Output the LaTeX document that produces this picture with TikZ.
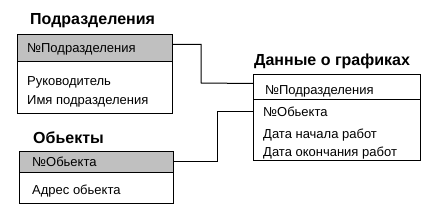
\documentclass[tikz,border=0pt]{standalone}
\usepackage{fontspec}
\setmainfont{Liberation Sans}
\usetikzlibrary{calc}
\tikzset{
  tbl/.style={draw=black, line width=1pt, inner sep=0pt, anchor=north west},
  hdr/.style={draw=black, line width=1pt, inner sep=0pt, anchor=north west},
  cell/.style={inner sep=0pt, anchor=west, font=\fontsize{13}{14}\selectfont, text height=9.3pt, text depth=0pt},
  ttl/.style={inner sep=0pt, anchor=west, font=\fontsize{16}{18}\selectfont\bfseries, text height=11.5pt, text depth=0pt},
  conn/.style={draw=black, line width=1pt},
}
\begin{document}
\begin{tikzpicture}[x=1pt,y=-1pt]
\useasboundingbox (0,0) rectangle (431,216);
% Table 1
\node[ttl] (t1) at (30,19) {Подразделения};
\node[tbl, minimum width=155pt, minimum height=79pt] (b1) at (17,34) {};
\node[hdr, fill={rgb,255:red,192;green,192;blue,192}, minimum width=155pt, minimum height=27pt] (h1) at (17,34) {};
\node[cell] (h1t) at (27,48) {№Подразделения};
\node[cell] (r1a) at (27,81) {Руководитель};
\node[cell] (r1b) at (27,100) {Имя подразделения};
% Table 2
\node[ttl] (t2) at (33,138) {Обьекты};
\node[tbl, minimum width=154pt, minimum height=52pt] (b2) at (19,151) {};
\node[hdr, fill={rgb,255:red,192;green,192;blue,192}, minimum width=154pt, minimum height=21pt] (h2) at (19,151) {};
\node[cell] (h2t) at (32,162) {№Обьекта};
\node[cell] (r2a) at (32,190) {Адрес обьекта};
% Table 3
\node[ttl] (t3) at (254,60) {Данные о графиках};
\node[tbl, minimum width=167pt, minimum height=86pt] (b3) at (253,74) {};
\node[hdr, minimum width=167pt, minimum height=25pt] (h3) at (253,74) {};
\node[cell] (h3t) at (265,90) {№Подразделения};
\node[cell] (r3a) at (263,112) {№Обьекта};
\node[cell] (r3b) at (263,134) {Дата начала работ};
\node[cell] (r3c) at (263,152) {Дата окончания работ};
% Connectors
\draw[conn] ([yshift=3.5pt]h1.east) -| (201,83) -- ([yshift=3.5pt]h3.west);
\draw[conn] (r3a -| b3.west) -- (217,112) |- (h2.east);
\end{tikzpicture}
\end{document}
